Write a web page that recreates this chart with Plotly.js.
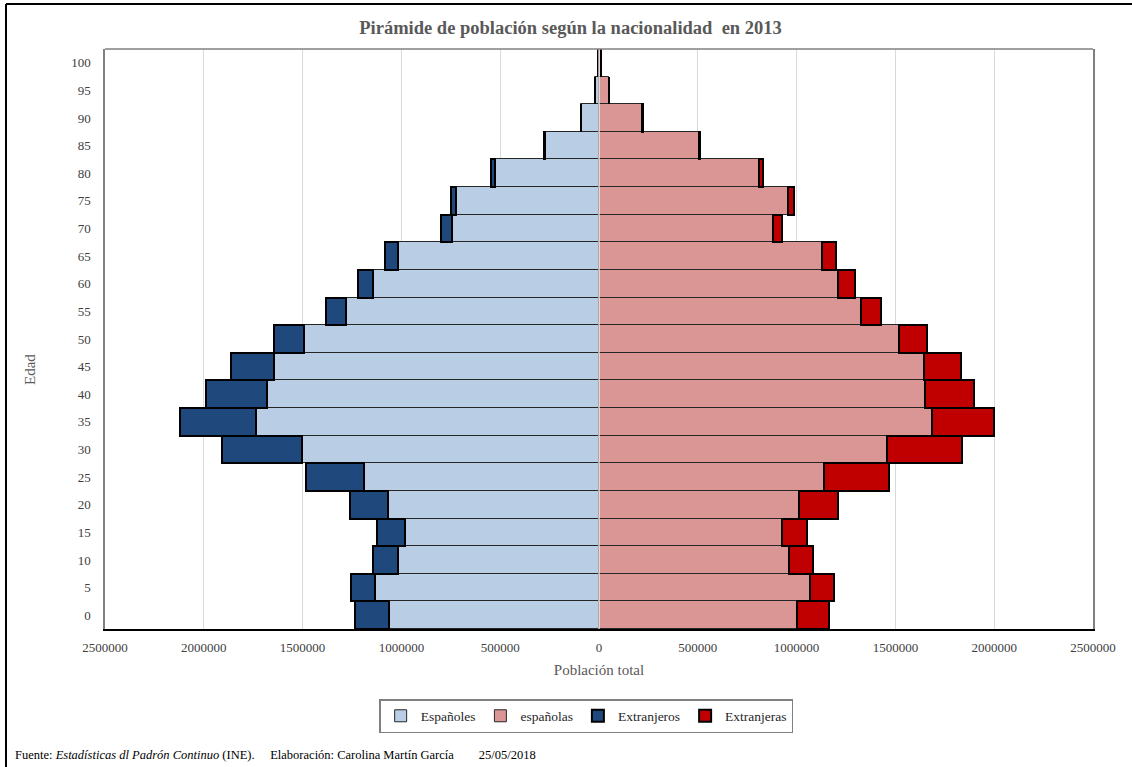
<!DOCTYPE html>
<html>
<head>
<meta charset="utf-8">
<script src="https://cdn.plot.ly/plotly-3.0.1.min.js"></script>
<style>
  html, body { margin: 0; padding: 0; background: #fff; }
  #chart { width: 1132px; height: 767px; }
</style>
</head>
<body>
<div id="chart"></div>
<script>
// Age groups (lower bound of each 5-year group)
const ages = ['0','5','10','15','20','25','30','35','40','45','50','55','60','65','70','75','80','85','90','95','100'];

// Men of Spanish nationality
const espanoles = [1065000,1132000,1016000,980000,1066000,1191000,1505000,1735000,1681000,1644000,1492000,1279000,1144000,1017000,746000,722000,528000,271000,89000,21000,3000];
// Women of Spanish nationality
const espanolas = [1001000,1070000,962000,925000,1013000,1138000,1455000,1683000,1649000,1646000,1519000,1325000,1210000,1126000,881000,954000,810000,505000,218000,52000,9000];
// Foreign men
const extranjeros = [170000,122000,130000,144000,193000,294000,404000,385000,307000,217000,154000,103000,78000,68000,52000,29000,20000,6000,3000,1000,200];
// Foreign women
const extranjeras = [161000,120000,122000,130000,199000,329000,380000,315000,250000,184000,140000,103000,88000,72000,47000,33000,20000,8000,3000,1000,300];

const xTickVals = [-2500000,-2000000,-1500000,-1000000,-500000,0,500000,1000000,1500000,2000000,2500000];
const xTickText = ['2500000','2000000','1500000','1000000','500000','0','500000','1000000','1500000','2000000','2500000'];

const serif = 'Liberation Serif, Times New Roman, serif';
const neg = a => a.map(v => -v);

const traces = [
  { type: 'bar', orientation: 'h', name: 'Españoles', y: ages, x: neg(espanoles), customdata: espanoles,
    hovertemplate: 'Españoles %{y}: %{customdata}<extra></extra>',
    marker: { color: '#b9cde5', line: { color: '#262626', width: 1 } } },
  { type: 'bar', orientation: 'h', name: 'españolas', y: ages, x: espanolas,
    hovertemplate: 'españolas %{y}: %{x}<extra></extra>',
    marker: { color: '#d99694', line: { color: '#262626', width: 1 } } },
  { type: 'bar', orientation: 'h', name: 'Extranjeros', y: ages, x: neg(extranjeros), customdata: extranjeros,
    hovertemplate: 'Extranjeros %{y}: %{customdata}<extra></extra>',
    marker: { color: '#1f497d', line: { color: '#000000', width: 2 } } },
  { type: 'bar', orientation: 'h', name: 'Extranjeras', y: ages, x: extranjeras,
    hovertemplate: 'Extranjeras %{y}: %{x}<extra></extra>',
    marker: { color: '#c00000', line: { color: '#000000', width: 2 } } }
];

const layout = {
  width: 1132, height: 767,
  margin: { l: 105, r: 39, t: 49, b: 138 },
  paper_bgcolor: '#ffffff', plot_bgcolor: '#ffffff',
  font: { family: serif, size: 13, color: '#404040' },
  barmode: 'relative', bargap: 0,
  title: { text: '<b>Pirámide de población según la nacionalidad  en 2013</b>',
           font: { family: serif, size: 18.5, color: '#595959' },
           x: 0.504, xanchor: 'center', y: 0.964, yanchor: 'middle' },
  xaxis: {
    range: [-2500000, 2500000], tickvals: xTickVals, ticktext: xTickText,
    showgrid: true, gridcolor: '#d9d9d9', gridwidth: 1,
    zeroline: false, showline: true, linecolor: '#000000', linewidth: 1.5,
    ticks: '', ticklabelstandoff: 6,
    tickfont: { family: serif, size: 13, color: '#404040' },
    title: { text: 'Población total', font: { family: serif, size: 15, color: '#595959' }, standoff: 10 },
    fixedrange: true
  },
  yaxis: {
    type: 'category', categoryorder: 'array', categoryarray: ages,
    showgrid: false, zeroline: false, showline: true, mirror: true,
    linecolor: '#808080', linewidth: 1.5, ticks: '', ticklabelstandoff: 10,
    tickfont: { family: serif, size: 13, color: '#404040' },
    fixedrange: true
  },
  legend: {
    orientation: 'h', x: 0.487, xanchor: 'center', y: -0.15, yanchor: 'middle',
    bordercolor: '#808080', borderwidth: 1.5, bgcolor: '#ffffff',
    font: { family: serif, size: 13.5, color: '#262626' },
    traceorder: 'normal', itemwidth: 30
  },
  shapes: [
    { type: 'line', xref: 'x', yref: 'paper', x0: 0, x1: 0, y0: 0, y1: 1, layer: 'above',
      line: { color: '#ffffff', width: 1.2 } },
    { type: 'line', xref: 'paper', yref: 'paper', x0: 0, x1: 1, y0: 1, y1: 1,
      line: { color: '#808080', width: 1.5 } },
    { type: 'line', xref: 'paper', yref: 'paper', x0: -0.1002, x1: -0.1002, y0: -0.3, y1: 1.0776,
      line: { color: '#000000', width: 2 } },
    { type: 'line', xref: 'paper', yref: 'paper', x0: -0.1002, x1: 1.1, y0: 1.0776, y1: 1.0776,
      line: { color: '#000000', width: 2 } }
  ],
  annotations: [
    { xref: 'paper', yref: 'paper', x: -0.0759, y: 0.4466, xanchor: 'center', yanchor: 'middle',
      showarrow: false, textangle: -90, text: 'Edad',
      font: { family: serif, size: 15, color: '#595959' } },
    { xref: 'paper', yref: 'paper', x: -0.093, y: -0.217, xanchor: 'left', yanchor: 'middle', showarrow: false,
      text: 'Fuente: <i>Estadísticas dl Padrón Continuo</i> (INE).     Elaboración: Carolina Martín García        25/05/2018',
      font: { family: serif, size: 12.5, color: '#000000' } }
  ]
};

Plotly.newPlot('chart', traces, layout, { displayModeBar: false });
</script>
</body>
</html>
